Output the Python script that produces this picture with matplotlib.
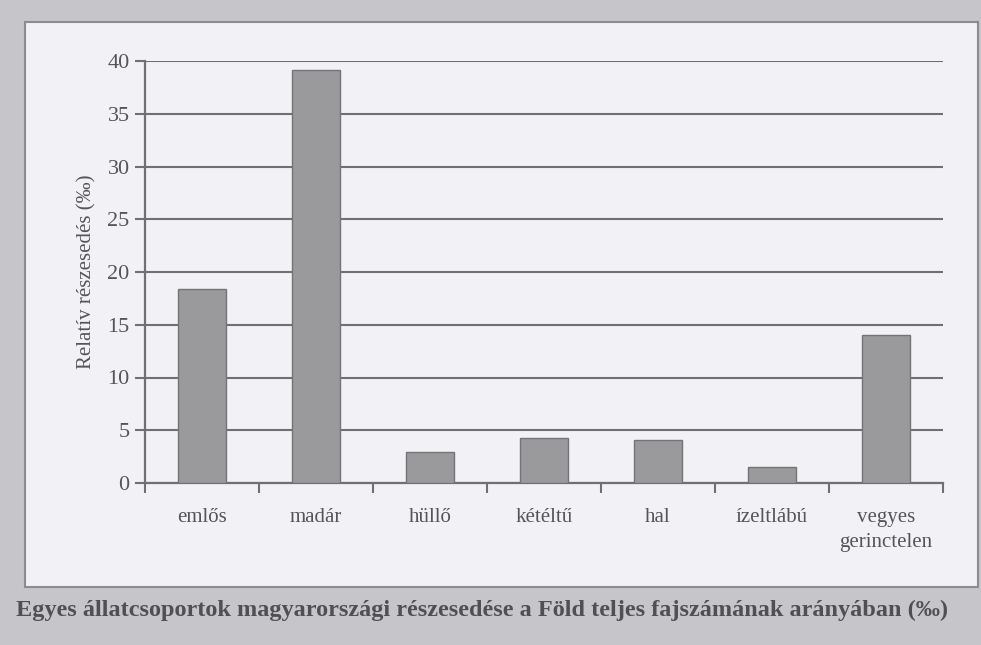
import matplotlib.pyplot as plt
from matplotlib.patches import Rectangle

categories = ["emlős", "madár", "hüllő", "kétéltű", "hal", "ízeltlábú", "vegyes\ngerinctelen"]
values = [18.4, 39.1, 2.9, 4.3, 4.1, 1.5, 14.0]
y_ticks = [0, 5, 10, 15, 20, 25, 30, 35, 40]

BG_COLOR = "#c6c6ca"
BOX_COLOR = "#f2f2f6"
BAR_COLOR = "#9a9a9c"
LINE_COLOR = "#707074"
TEXT_COLOR = "#555558"

plt.rcParams['font.family'] = ['Liberation Serif', 'DejaVu Serif']

fig = plt.figure(figsize=(9.81, 6.45), dpi=100)
fig.patch.set_facecolor(BG_COLOR)

# inner light panel of the scanned page
box = Rectangle((25 / 981, 1 - 587 / 645), 953 / 981, 565 / 645,
                transform=fig.transFigure, facecolor=BOX_COLOR,
                edgecolor="#8c8c90", linewidth=1.5, zorder=-10)
fig.patches.append(box)

ax = fig.add_axes([145 / 981, 1 - 483 / 645, 798 / 981, 422 / 645])
ax.set_facecolor("none")
ax.set_zorder(1)

x = list(range(len(categories)))
ax.bar(x, values, width=0.42, color=BAR_COLOR, edgecolor="#747476",
       linewidth=1.0, zorder=3)

ax.set_xlim(-0.5, len(categories) - 0.5)
ax.set_ylim(0, 40)
ax.set_yticks(y_ticks)
ax.set_yticklabels([str(t) for t in y_ticks], fontsize=16, color=TEXT_COLOR)
ax.yaxis.grid(True, color=LINE_COLOR, linewidth=1.5, zorder=1)
ax.set_axisbelow(True)

# category labels centered, ticks at category boundaries
ax.set_xticks(x)
ax.set_xticklabels(categories, fontsize=15, color=TEXT_COLOR, linespacing=1.45, va="top")
ax.tick_params(axis="x", length=0, pad=18)
ax.set_xticks([i - 0.5 for i in range(len(categories) + 1)], minor=True)
ax.tick_params(axis="x", which="minor", length=7, width=1.5, color=LINE_COLOR)
ax.tick_params(axis="y", length=7, width=1.5, color=LINE_COLOR, pad=4)

for side in ["top", "right"]:
    ax.spines[side].set_visible(False)
for side in ["left", "bottom"]:
    ax.spines[side].set_color(LINE_COLOR)
    ax.spines[side].set_linewidth(1.6)

ax.set_ylabel("Relatív részesedés (‰)", fontsize=15, color=TEXT_COLOR, labelpad=8)

fig.text(482 / 981, 1 - 610 / 645,
         "Egyes állatcsoportok magyarországi részesedése a Föld teljes fajszámának arányában (‰)",
         ha="center", va="center", fontsize=17.5, fontweight="bold", color="#505054")

fig.savefig("out.png", dpi=100, facecolor=fig.get_facecolor())
